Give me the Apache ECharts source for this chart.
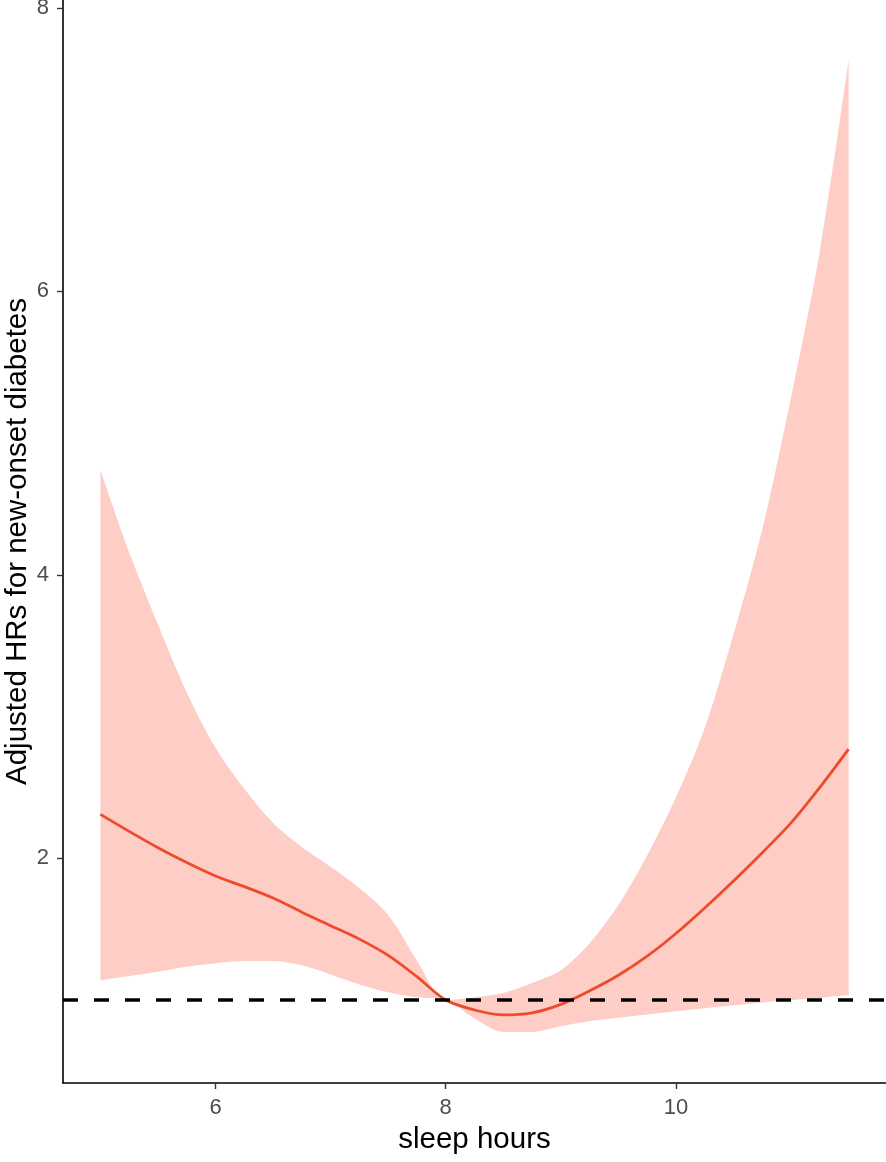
<!DOCTYPE html>
<html>
<head>
<meta charset="utf-8">
<script src="https://cdn.jsdelivr.net/npm/echarts@6/dist/echarts.min.js"></script>
<style>
html,body{margin:0;padding:0;background:#fff;}
#chart{width:886px;height:1162px;}
</style>
</head>
<body>
<div id="chart"></div>
<script>
// sleep hours
const hours = [5.0,5.25,5.5,5.75,6.0,6.25,6.5,6.75,7.0,7.25,7.5,7.75,8.0,8.25,8.5,8.75,9.0,9.25,9.5,9.75,10.0,10.25,10.5,10.75,11.0,11.25,11.5];
// adjusted HR (point estimate)
const hrMean = [2.31,2.19,2.075,1.97,1.875,1.80,1.72,1.62,1.525,1.43,1.315,1.165,1.00,0.93,0.895,0.91,0.97,1.065,1.175,1.31,1.47,1.65,1.84,2.04,2.25,2.50,2.77];
// 95% CI upper
const hrUpper = [4.74,4.16,3.65,3.17,2.78,2.49,2.25,2.08,1.94,1.79,1.60,1.28,1.00,1.02,1.05,1.12,1.21,1.40,1.67,2.02,2.43,2.92,3.58,4.32,5.25,6.28,7.63];
// 95% CI lower
const hrLower = [1.14,1.17,1.20,1.235,1.26,1.275,1.275,1.245,1.18,1.11,1.055,1.02,1.00,0.87,0.775,0.775,0.815,0.85,0.875,0.898,0.922,0.943,0.963,0.983,1.00,1.015,1.035];
const xTicks = [6,8,10];
const yTicks = [2,4,6,8];
const refHR = 1;

const chart = echarts.init(document.getElementById('chart'), null, {renderer:'canvas'});
const font = 'Liberation Sans, Arial, sans-serif';
const bandColor = '#FDCDC6';
const areaBase = 0.5;
const last = hours.length - 1;

const upperData = hours.map((h,i)=>[h, hrUpper[i]]);
const lowerData = hours.map((h,i)=>[h, hrLower[i]]);
const meanData = hours.map((h,i)=>[h, hrMean[i]]);

chart.setOption({
  animation:false,
  backgroundColor:'#fff',
  grid:{left:63, right:0, top:0, bottom:79, containLabel:false, outerBoundsMode:'none'},
  xAxis:{
    type:'value', min:4.675, max:11.825,
    name:'sleep hours', nameLocation:'middle', nameGap:42, nameMoveOverlap:false,
    nameTextStyle:{fontFamily:font, fontSize:29.5, color:'#000'},
    splitLine:{show:false},
    axisLine:{show:true, onZero:false, lineStyle:{color:'#000', width:1.6}},
    axisTick:{show:true, length:6, lineStyle:{color:'#333', width:1.4}, customValues:xTicks},
    axisLabel:{fontFamily:font, fontSize:22, color:'#4D4D4D', margin:14, customValues:xTicks}
  },
  yAxis:{
    type:'value', min:0.415, max:8.055,
    name:'Adjusted HRs for new-onset diabetes', nameLocation:'middle', nameGap:30, nameMoveOverlap:false,
    nameTextStyle:{fontFamily:font, fontSize:29.5, color:'#000'},
    splitLine:{show:false},
    axisLine:{show:true, onZero:false, lineStyle:{color:'#000', width:1.6}},
    axisTick:{show:true, length:6, lineStyle:{color:'#333', width:1.4}, customValues:yTicks},
    axisLabel:{fontFamily:font, fontSize:22, color:'#4D4D4D', margin:14, customValues:yTicks}
  },
  series:[
    {
      type:'line', data:upperData, symbol:'none', smooth:0.3,
      lineStyle:{width:0, opacity:0}, areaStyle:{color:bandColor, opacity:1, origin:areaBase},
      silent:true, z:1
    },
    {
      type:'line', data:lowerData, symbol:'none', smooth:0.3,
      lineStyle:{width:0, opacity:0}, areaStyle:{color:'#fff', opacity:1, origin:areaBase},
      silent:true, z:1,
      markLine:{
        silent:true, symbol:'none', label:{show:false},
        lineStyle:{color:'#fff', width:2, type:'solid'},
        data:[
          [{coord:[hours[0], areaBase]}, {coord:[hours[0], hrLower[0]-0.01]}],
          [{coord:[hours[last], areaBase]}, {coord:[hours[last], hrLower[last]-0.01]}]
        ]
      }
    },
    {
      type:'line', data:meanData, symbol:'none', smooth:0.3,
      lineStyle:{color:'#EE4B2B', width:2.8}, z:3,
      markLine:{
        silent:true, symbol:'none', label:{show:false},
        lineStyle:{color:'#000', width:3.5, type:[15,16]},
        data:[{yAxis:refHR}]
      }
    }
  ]
});
</script>
</body>
</html>
